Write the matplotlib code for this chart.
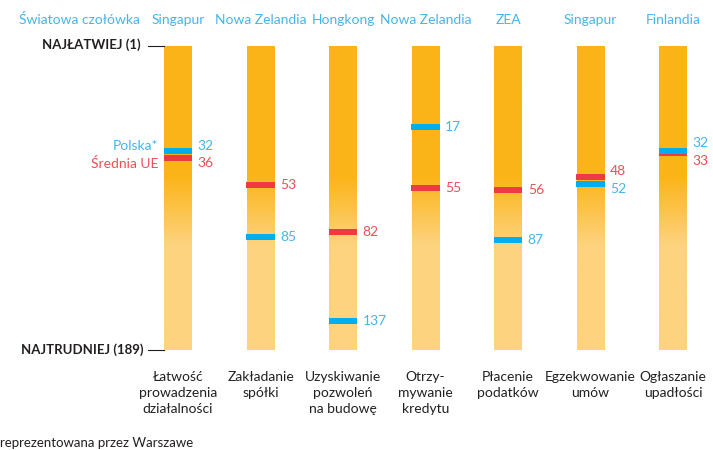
import numpy as np
import matplotlib.pyplot as plt
from matplotlib.colors import LinearSegmentedColormap

plt.rcParams['font.family'] = ['Lato', 'DejaVu Sans']

categories = ['Łatwość\nprowadzenia\ndziałalności', 'Zakładanie\nspółki',
              'Uzyskiwanie\npozwoleń\nna budowę', 'Otrzy-\nmywanie\nkredytu',
              'Płacenie\npodatków', 'Egzekwowanie\numów', 'Ogłaszanie\nupadłości']
leaders = ['Singapur', 'Nowa Zelandia', 'Hongkong', 'Nowa Zelandia',
           'ZEA', 'Singapur', 'Finlandia']
poland = [32, 85, 137, 17, 87, 52, 32]
eu_avg = [36, 53, 82, 55, 56, 48, 33]
rank_best, rank_worst = 1, 189

ORANGE = '#FBB417'
PALE = '#FED37F'
BLUE = '#00AEEF'
RED = '#EE3B43'
BLUE_TXT = '#45B5EA'
RED_TXT = '#EF4F55'
DARK = '#231F20'

# in the source graphic the bars sit 34 ranks higher than the marker scale
shift = 34
bar_top = rank_best - shift
bar_bottom = rank_worst - shift
bar_w = 0.33

fig = plt.figure(figsize=(7.13, 4.5), dpi=100)
ax = fig.add_axes([0, 0, 1, 1])

cmap = LinearSegmentedColormap.from_list('fade', [ORANGE, PALE])
yy = np.linspace(bar_top, bar_bottom, 300)
grad = np.clip((yy - 47) / (90 - 47), 0, 1)[:, None]

x = np.arange(len(categories))
for i in x:
    ax.imshow(grad, cmap=cmap, aspect='auto', origin='upper',
              extent=(i - bar_w / 2, i + bar_w / 2, bar_bottom, bar_top),
              interpolation='bilinear', zorder=1)

ax.bar(x, 3.7, bottom=np.array(eu_avg) - 1.85, width=bar_w + 0.02, color=RED, zorder=2)
ax.bar(x, 3.7, bottom=np.array(poland) - 1.85, width=bar_w + 0.02, color=BLUE, zorder=3)

for i, (p, e) in enumerate(zip(poland, eu_avg)):
    yp, ye = p, e
    if abs(p - e) < 11:
        mid = (p + e) / 2
        yp = mid - 5.5 if p <= e else mid + 5.5
        ye = mid + 5.5 if p <= e else mid - 5.5
    ax.text(i + 0.24, yp, str(p), color=BLUE_TXT, fontsize=10, va='center', ha='left')
    ax.text(i + 0.24, ye, str(e), color=RED_TXT, fontsize=10, va='center', ha='left')
    if i == 0:
        ax.text(-0.24, yp, 'Polska*', color=BLUE_TXT, fontsize=10, va='center', ha='right')
        ax.text(-0.24, ye, 'Średnia UE', color=RED_TXT, fontsize=10, va='center', ha='right')

# header row
ax.text(-1.19, -49.2, 'Światowa czołówka', color=BLUE_TXT, fontsize=10, ha='center', va='center')
for i, name in enumerate(leaders):
    ax.text(i, -49.2, name, color=BLUE_TXT, fontsize=10, ha='center', va='center')

# scale ends
ax.plot([-0.364, -bar_w / 2], [bar_top, bar_top], color=DARK, lw=0.8)
ax.plot([-0.364, -bar_w / 2], [bar_bottom, bar_bottom], color=DARK, lw=0.8)
ax.text(-0.448, bar_top - 1, 'NAJŁATWIEJ (1)', color=DARK, fontsize=9.5,
        fontweight='bold', ha='right', va='center')
ax.text(-0.424, bar_bottom - 0.5, 'NAJTRUDNIEJ (189)', color=DARK, fontsize=9.5,
        fontweight='bold', ha='right', va='center')

for i, cat in enumerate(categories):
    ax.text(i, 168, cat, color=DARK, fontsize=10, ha='center', va='top', linespacing=1.4)

ax.text(-2.16, 212.4, 'reprezentowana przez Warszawe', color=DARK, fontsize=9.5,
        ha='left', va='center')

ax.set_xlim(-2.158, 6.485)
ax.set_ylim(216.8, -61.5)
ax.axis('off')

fig.savefig('out.png', dpi=100)
